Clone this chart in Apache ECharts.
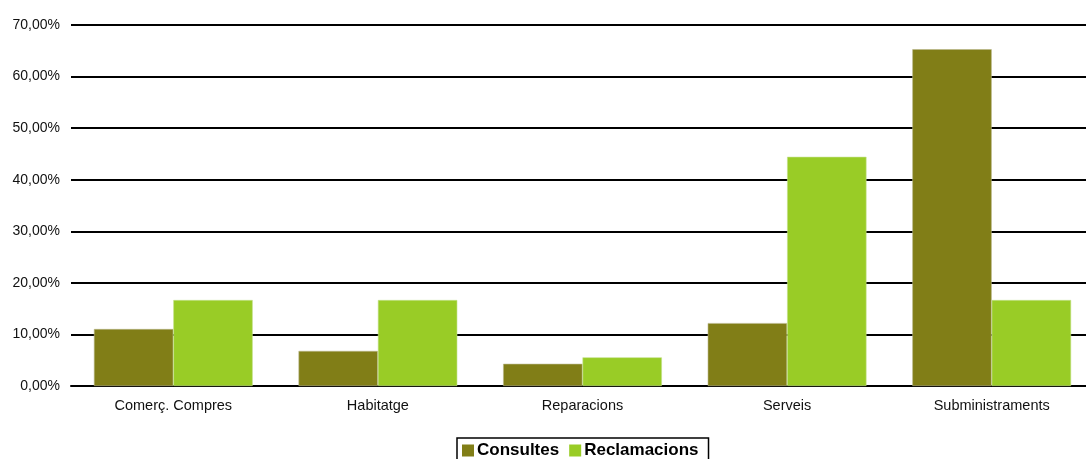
<!DOCTYPE html>
<html>
<head>
<meta charset="utf-8">
<script src="https://cdn.jsdelivr.net/npm/echarts@6/dist/echarts.min.js"></script>
<style>
  html, body { margin: 0; padding: 0; background: #fff; }
  #chart { width: 1086px; height: 459px; }
</style>
</head>
<body>
<div id="chart"></div>
<script>
const categories = ['Comerç. Compres', 'Habitatge', 'Reparacions', 'Serveis', 'Subministraments']
const consultes = [11.05, 6.8, 4.3, 12.2, 65.3]
const reclamacions = [16.67, 16.67, 5.56, 44.44, 16.67]

const chart = echarts.init(document.getElementById('chart'))

const fmt = v => v.toFixed(2).replace('.', ',') + '%'

chart.setOption({
  animation: false,
  textStyle: { fontFamily: 'Liberation Sans, Arial, sans-serif' },
  // the category axis runs past the right edge in the original
  grid: { left: 71, right: -8, top: 25, bottom: 73, outerBoundsMode: 'none', containLabel: false },
  legend: {
    bottom: -8,
    left: 457,
    itemWidth: 12,
    itemHeight: 12,
    itemGap: 10,
    icon: 'rect',
    borderColor: '#000',
    borderWidth: 1.5,
    padding: [4, 10, 8, 5],
    itemStyle: { borderWidth: 0 },
    textStyle: { fontSize: 17, fontWeight: 'bold', color: '#000', padding: [0, 0, 0, -2] },
    data: ['Consultes', 'Reclamacions']
  },
  xAxis: {
    type: 'category',
    data: categories,
    axisLine: { lineStyle: { color: '#000', width: 2 } },
    axisTick: { show: false },
    axisLabel: { color: '#111', fontSize: 14.5, margin: 12 }
  },
  yAxis: {
    type: 'value',
    min: 0,
    max: 70,
    interval: 10,
    axisLine: { show: false },
    axisTick: { show: false },
    splitLine: { lineStyle: { color: '#000', width: 2 } },
    axisLabel: { color: '#111', fontSize: 14, margin: 11, formatter: fmt }
  },
  series: [
    {
      name: 'Consultes',
      type: 'bar',
      data: consultes,
      barGap: '0%',
      barCategoryGap: '22.4%',
      itemStyle: { color: '#817e17', borderColor: '#b9b78a', borderWidth: 0.6 }
    },
    {
      name: 'Reclamacions',
      type: 'bar',
      data: reclamacions,
      itemStyle: { color: '#99cc26', borderColor: '#c3e08a', borderWidth: 0.6 }
    }
  ]
})
</script>
</body>
</html>
